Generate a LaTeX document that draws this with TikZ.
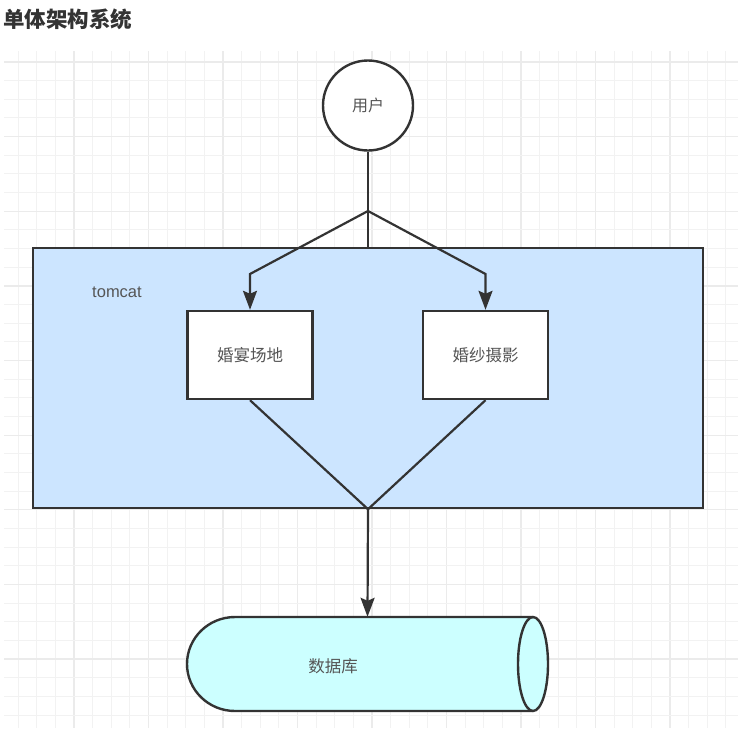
\documentclass[tikz,border=0pt]{standalone}
\usepackage{fontspec}
\setmainfont{Liberation Sans}
\newfontfamily\cjk{Noto Sans CJK SC}
\usetikzlibrary{arrows.meta}
\definecolor{gridminor}{HTML}{F2F2F2}
\definecolor{gridmajor}{HTML}{EBEBEB}
\definecolor{strokec}{HTML}{333333}
\definecolor{txtc}{HTML}{555555}
\definecolor{titlec}{HTML}{333333}
\definecolor{tomfill}{HTML}{CCE5FF}
\definecolor{dbfill}{HTML}{CCFFFF}
\tikzset{
  conn/.style={draw=strokec, line width=2.2pt},
  arr/.style={conn, -{Stealth[length=19pt, width=14pt, inset=3pt]}},
  boxnode/.style={draw=strokec, line width=2.4pt, fill=white, minimum width=125pt, minimum height=88pt, inner sep=0pt, font=\cjk\fontsize{16.5}{19}\selectfont, text=txtc},
  lbl/.style={inner sep=0pt, text=txtc},
}
\begin{document}
\begin{tikzpicture}[x=1pt,y=-1pt]
\useasboundingbox (0,0) rectangle (746,739);
\fill[white] (0,0) rectangle (746,739);
% grid
\foreach \k in {0,...,39} {
  \pgfmathsetmacro{\xx}{18.125+18.625*\k}
  \ifdim \xx pt<739pt
    \pgfmathtruncatemacro{\mm}{mod(\k+1,4)}
    \ifnum\mm=0 \draw[gridmajor, line width=1.3pt] (\xx,51) -- (\xx,728);
    \else \draw[gridminor, line width=1pt] (\xx,51) -- (\xx,728); \fi
  \fi
}
\foreach \k in {0,...,35} {
  \pgfmathsetmacro{\yy}{62+18.66*\k}
  \ifdim \yy pt<728pt
    \pgfmathtruncatemacro{\mm}{mod(\k,4)}
    \ifnum\mm=0 \draw[gridmajor, line width=1.3pt] (4,\yy) -- (738,\yy);
    \else \draw[gridminor, line width=1pt] (4,\yy) -- (738,\yy); \fi
  \fi
}
% title
\node[anchor=west, inner sep=0pt, text=titlec, font=\cjk\bfseries\fontsize{21.5}{25}\selectfont] (title) at (3,19) {单体架构系统};
% tomcat container
\node[draw=strokec, line width=2.4pt, fill=tomfill, minimum width=670pt, minimum height=260pt, inner sep=0pt] (tomcat) at (368,378) {};
\node[lbl, font=\fontsize{16.5}{19}\selectfont] (tomlbl) at (117,292) {tomcat};
% user
\node[circle, draw=strokec, line width=2.4pt, fill=white, minimum size=90pt, inner sep=0pt, font=\cjk\fontsize{16}{19}\selectfont, text=txtc] (u) at (368,105.5) {用户};
% service boxes
\node[boxnode] (b1) at (250,355) {婚宴场地};
\node[boxnode] (b2) at (485.5,355) {婚纱摄影};
% database cylinder
\node[minimum width=361pt, minimum height=94pt, inner sep=0pt] (db) at (367.5,664) {};
\path[fill=dbfill] (235,617) -- (533,617)
  .. controls (541.3,617) and (548,638) .. (548,664)
  .. controls (548,690) and (541.3,711) .. (533,711)
  -- (235,711)
  .. controls (208.5,711) and (187,690) .. (187,664)
  .. controls (187,638) and (208.5,617) .. (235,617) -- cycle;
\draw[draw=strokec, line width=2.4pt] (235,617) -- (533,617)
  .. controls (541.3,617) and (548,638) .. (548,664)
  .. controls (548,690) and (541.3,711) .. (533,711)
  -- (235,711)
  .. controls (208.5,711) and (187,690) .. (187,664)
  .. controls (187,638) and (208.5,617) .. (235,617) -- cycle;
\draw[draw=strokec, line width=2.4pt] (533,617)
  .. controls (524.7,617) and (518,638) .. (518,664)
  .. controls (518,690) and (524.7,711) .. (533,711);
\node[lbl, font=\cjk\fontsize{16.5}{19}\selectfont] (dbl) at (333,666) {数据库};
% connectors
\coordinate (j1) at (368,211);
\coordinate (kl) at (250,274);
\coordinate (kr) at (485.5,274);
\draw[conn] (u.south) -- (tomcat.north);
\draw[arr] (j1) -- (kl) -- (b1.north);
\draw[arr] (j1) -- (kr) -- (b2.north);
\draw[conn] (b1.south) -- (tomcat.south);
\draw[conn] (b2.south) -- (tomcat.south);
\draw[arr] (tomcat.south) -- (db.north);
\end{tikzpicture}
\end{document}
